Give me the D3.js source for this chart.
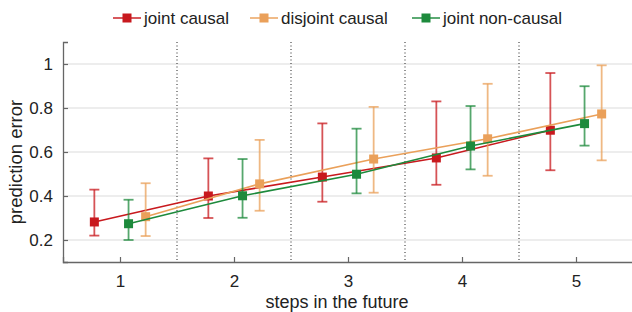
<!DOCTYPE html>
<html><head><meta charset="utf-8">
<script src="https://cdn.jsdelivr.net/npm/d3@7"></script>
<style>body{margin:0;background:#fff}svg{display:block;font-family:"Liberation Sans",Arial,sans-serif}</style>
</head><body><svg id="c" width="632" height="312"></svg>
<script>
const steps = [1, 2, 3, 4, 5];
const seriesNames = ["joint causal", "disjoint causal", "joint non-causal"];
const seriesColors = ["#c8191e", "#eaa05a", "#1d8a3c"];
const seriesOffsets = [-0.225, 0.225, 0.075];
const jointCausal = [0.282, 0.400, 0.486, 0.573, 0.699];
const jointCausalLow = [0.220, 0.300, 0.374, 0.451, 0.517];
const jointCausalHigh = [0.429, 0.571, 0.730, 0.830, 0.959];
const disjointCausal = [0.306, 0.455, 0.568, 0.660, 0.773];
const disjointCausalLow = [0.218, 0.333, 0.415, 0.492, 0.562];
const disjointCausalHigh = [0.458, 0.655, 0.805, 0.910, 0.994];
const jointNonCausal = [0.274, 0.401, 0.499, 0.627, 0.729];
const jointNonCausalLow = [0.200, 0.301, 0.412, 0.521, 0.629];
const jointNonCausalHigh = [0.383, 0.568, 0.706, 0.809, 0.899];
const yTicks = [0.2, 0.4, 0.6, 0.8, 1];
const separators = [1.5, 2.5, 3.5, 4.5];

const series = [
  {name: seriesNames[0], color: seriesColors[0], off: seriesOffsets[0], v: jointCausal, lo: jointCausalLow, hi: jointCausalHigh},
  {name: seriesNames[1], color: seriesColors[1], off: seriesOffsets[1], v: disjointCausal, lo: disjointCausalLow, hi: disjointCausalHigh},
  {name: seriesNames[2], color: seriesColors[2], off: seriesOffsets[2], v: jointNonCausal, lo: jointNonCausalLow, hi: jointNonCausalHigh}
];

const svg = d3.select("#c");
const L = 63, R = 633, T = 42, B = 262;
const x = d3.scaleLinear().domain([0.5, 5.5]).range([L, R]);
const y = d3.scaleLinear().domain([0.1, 1.1]).range([B, T]);

// grid
svg.append("g").selectAll("line").data(yTicks).join("line")
  .attr("x1", L).attr("x2", R).attr("y1", d => y(d)).attr("y2", d => y(d))
  .attr("stroke", "#dcdcdc").attr("stroke-width", 1.2);
// separators
svg.append("g").selectAll("line").data(separators).join("line")
  .attr("x1", d => x(d)).attr("x2", d => x(d)).attr("y1", T).attr("y2", B)
  .attr("stroke", "#222").attr("stroke-width", 1).attr("stroke-dasharray", "1,2.5");

// axes
const yAxis = d3.axisLeft(y).tickValues(yTicks).tickSize(-5).tickPadding(10).tickFormat(d3.format("~g"));
const gy = svg.append("g").attr("transform", `translate(${L},0)`).call(yAxis);
const xAxis = d3.axisBottom(x).tickValues(steps).tickSize(-5).tickPadding(13).tickFormat(d3.format("d"));
const gx = svg.append("g").attr("transform", `translate(0,${B})`).call(xAxis);
[gy, gx].forEach(g => {
  g.select(".domain").attr("stroke", "#666").attr("stroke-width", 1.3);
  g.selectAll(".tick line").attr("stroke", "#666").attr("stroke-width", 1.2);
  g.selectAll(".tick text").attr("fill", "#222").style("font-size", "17px");
});

// titles
svg.append("text").attr("x", 337).attr("y", 308).attr("text-anchor", "middle")
  .attr("fill", "#222").style("font-size", "18px").text("steps in the future");
svg.append("text").attr("transform", `translate(22,${(T + B) / 2 + 10}) rotate(-90)`).attr("text-anchor", "middle")
  .attr("fill", "#222").style("font-size", "18.5px").text("prediction error");

// series
series.forEach(s => {
  const pts = steps.map((st, i) => ({x: st + s.off, v: s.v[i], lo: s.lo[i], hi: s.hi[i]}));
  const g = svg.append("g");
  const eb = g.append("g").attr("stroke", s.color).attr("stroke-opacity", 0.75).attr("stroke-width", 1.8);
  eb.selectAll(".v").data(pts).join("line").attr("x1", d => x(d.x)).attr("x2", d => x(d.x))
    .attr("y1", d => y(d.lo)).attr("y2", d => y(d.hi));
  eb.selectAll(".t").data(pts).join("line").attr("x1", d => x(d.x) - 5).attr("x2", d => x(d.x) + 5)
    .attr("y1", d => y(d.hi)).attr("y2", d => y(d.hi));
  eb.selectAll(".b").data(pts).join("line").attr("x1", d => x(d.x) - 5).attr("x2", d => x(d.x) + 5)
    .attr("y1", d => y(d.lo)).attr("y2", d => y(d.lo));
  g.append("path").datum(pts).attr("fill", "none").attr("stroke", s.color).attr("stroke-width", 1.6)
    .attr("d", d3.line().x(d => x(d.x)).y(d => y(d.v)));
  g.selectAll("rect").data(pts).join("rect").attr("x", d => x(d.x) - 4.5).attr("y", d => y(d.v) - 4.5)
    .attr("width", 9).attr("height", 9).attr("fill", s.color);
});

// legend
const legX = [113, 250, 412];
const lg = svg.append("g");
series.forEach((s, i) => {
  const g = lg.append("g").attr("transform", `translate(${legX[i]},18)`);
  g.append("line").attr("x1", 0).attr("x2", 28).attr("stroke", s.color).attr("stroke-opacity", 0.8).attr("stroke-width", 1.8);
  g.append("rect").attr("x", 9.5).attr("y", -4.5).attr("width", 9).attr("height", 9).attr("fill", s.color);
  g.append("text").attr("x", 31).attr("y", 6).attr("fill", "#222").style("font-size", "17px").text(s.name);
});
</script></body></html>
